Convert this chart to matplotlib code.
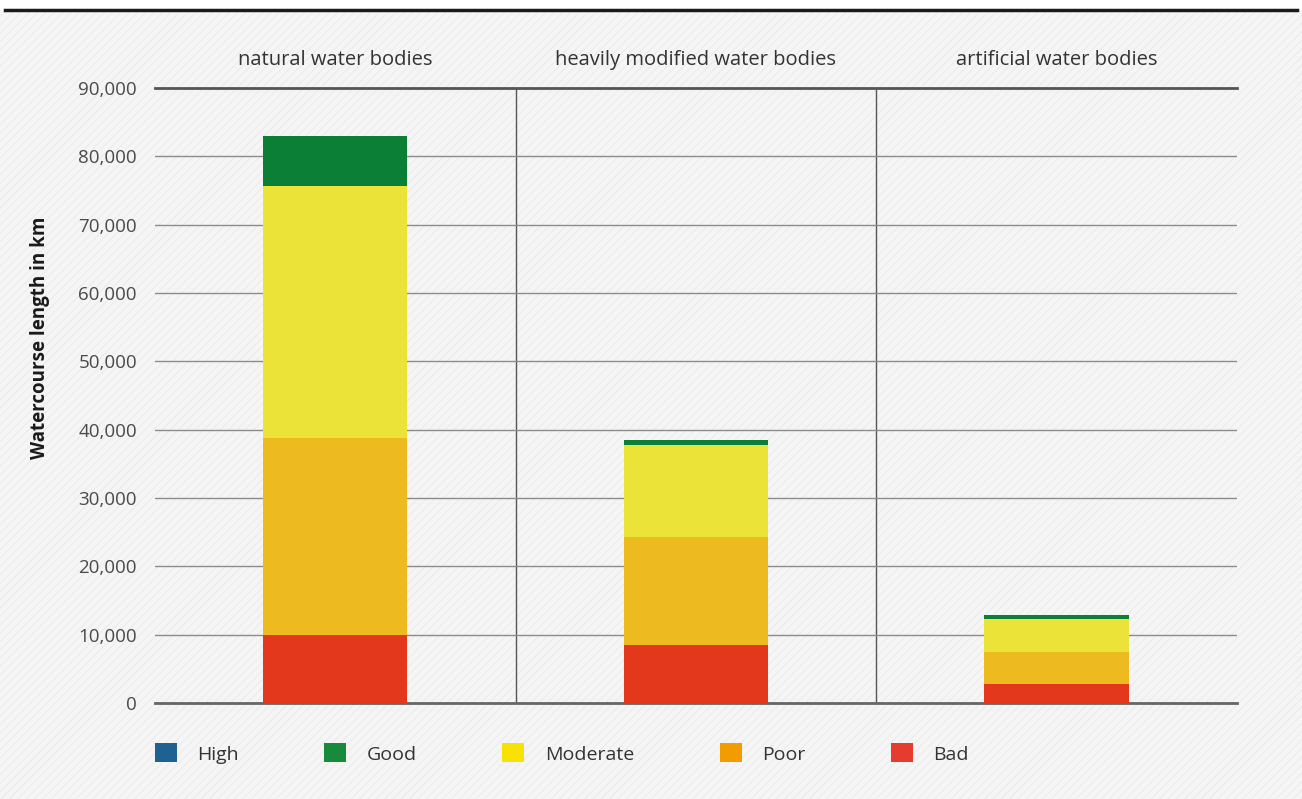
import matplotlib.pyplot as plt
from matplotlib.patches import Patch, Rectangle
from matplotlib.lines import Line2D
from matplotlib.ticker import FuncFormatter

plt.rcParams['font.family'] = ['Open Sans', 'DejaVu Sans']
plt.rcParams['hatch.color'] = '#e6e6e6'
plt.rcParams['hatch.linewidth'] = 0.6

categories = ['natural water bodies', 'heavily modified water bodies', 'artificial water bodies']
classes = ['High', 'Good', 'Moderate', 'Poor', 'Bad']

# watercourse length in km per status class (stacked bottom-up: Bad, Poor, Moderate, Good, High)
bad = [10000, 8500, 2800]
poor = [28800, 15800, 4700]
moderate = [36800, 13400, 4800]
good = [7300, 800, 550]
high = [0, 0, 0]

barColors = {'Bad': '#e3381c', 'Poor': '#edbb1f', 'Moderate': '#ece338', 'Good': '#0b7f36', 'High': '#1b6a95'}
legendColors = {'High': '#1d6290', 'Good': '#178a3b', 'Moderate': '#f7e203', 'Poor': '#f39c00', 'Bad': '#e63b2f'}

fig = plt.figure(figsize=(13.02, 7.99), dpi=100)
fig.patch.set_facecolor('#f5f5f5')

#hatched background under everything, white strip on top
fig.patches.append(Rectangle((0, 0), 1, 0.987, transform=fig.transFigure, facecolor='#f5f5f5',
                             edgecolor='#e9e9e9', hatch='////', linewidth=0, zorder=-10))
fig.patches.append(Rectangle((0, 0.987), 1, 0.013, transform=fig.transFigure, facecolor='white',
                             linewidth=0, zorder=-9))
fig.lines.append(Line2D([0.004, 0.996], [0.987, 0.987], transform=fig.transFigure, color='#1a1a1a', linewidth=2.5))

ax = fig.add_axes([0.119, 0.1202, 0.831, 0.7697])
ax.set_facecolor('none')

x = range(len(categories))
stack = [('Bad', bad), ('Poor', poor), ('Moderate', moderate), ('Good', good), ('High', high)]
bottoms = [0, 0, 0]
for name, vals in stack:
    ax.bar(x, vals, width=0.4, bottom=bottoms, color=barColors[name], zorder=3)
    bottoms = [b + v for b, v in zip(bottoms, vals)]

ax.set_xlim(-0.5, 2.5)
ax.set_ylim(0, 90000)
ax.set_yticks(range(0, 90001, 10000))
ax.yaxis.set_major_formatter(FuncFormatter(lambda v, p: f'{int(v):,}'))
ax.grid(axis='y', color='#8c8c8c', linewidth=1, zorder=0)
for sep in [0.5, 1.5]:
    ax.axvline(sep, color='#555555', linewidth=1, zorder=1)
ax.set_xticks([])
ax.tick_params(axis='y', length=0, pad=13, labelsize=13.5, labelcolor='#4a4a4a')
for s in ['left', 'right']:
    ax.spines[s].set_visible(False)
ax.spines['top'].set_color('#555555')
ax.spines['top'].set_linewidth(2)
ax.spines['bottom'].set_color('#666666')
ax.spines['bottom'].set_linewidth(2)

for i, cat in enumerate(categories):
    ax.text(i, 1.045, cat, transform=ax.get_xaxis_transform(), ha='center', va='center',
            fontsize=14.5, color='#333333')

ax.set_ylabel('Watercourse length in km', fontsize=13.5, fontweight='bold', color='#1a1a1a')
ax.yaxis.set_label_coords(-0.097, 0.593)

handles = [Patch(facecolor=legendColors[c], edgecolor='none') for c in classes]
fig.legend(handles, classes, loc='center left', bbox_to_anchor=(0.1114, 0.057), ncol=5, frameon=False,
           fontsize=14, borderpad=0, handlelength=1.13, handleheight=1.13, handletextpad=1.05,
           columnspacing=4.4, labelcolor='#333333')

fig.savefig('out.png', dpi=100, facecolor=fig.get_facecolor())
